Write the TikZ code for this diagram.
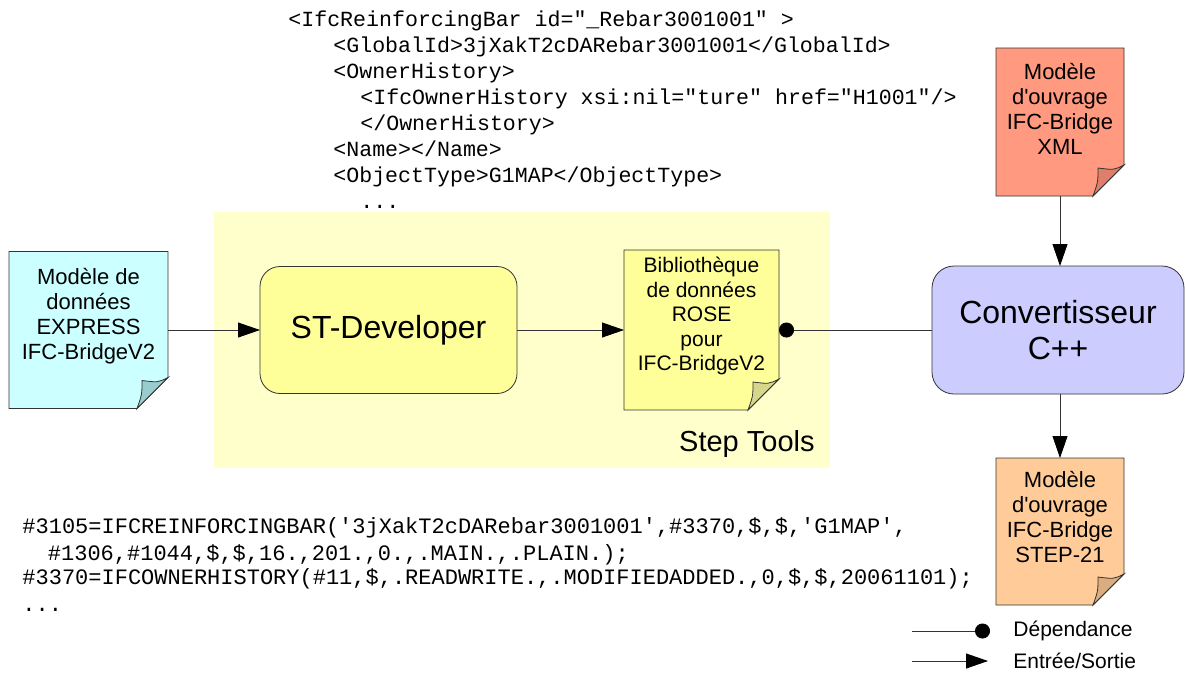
\documentclass[tikz,border=0pt]{standalone}
\usepackage{fontspec}
\setmainfont{Liberation Sans}
\newfontfamily\codefont[Ligatures=TeXOff]{Liberation Mono}
\usetikzlibrary{arrows.meta, positioning, calc}

\definecolor{expresscol}{HTML}{CCFFFF}
\definecolor{expressfold}{HTML}{99CCCC}
\definecolor{rosecol}{HTML}{FFFF99}
\definecolor{rosefold}{HTML}{D6D68C}
\definecolor{xmlcol}{HTML}{FF9980}
\definecolor{xmlfold}{HTML}{DD7F6B}
\definecolor{stepcol}{HTML}{FFCC99}
\definecolor{stepfold}{HTML}{D9AD80}
\definecolor{toolscol}{HTML}{FFFFCC}
\definecolor{convcol}{HTML}{CCCCFF}
\definecolor{linecol}{HTML}{333333}

% page with a folded corner, drawn round an empty node
\newcommand{\foldpage}[3]{%
  \filldraw[pageline, fill=#2] (#1.north west) -- (#1.north east) -- ([yshift=31pt]#1.south east)
    -- ([xshift=-31pt]#1.south east) -- (#1.south west) -- cycle;
  \filldraw[pageline, fill=#3] ([yshift=31pt]#1.south east)
    .. controls ([xshift=-10pt,yshift=26pt]#1.south east) .. ([xshift=-26pt,yshift=28pt]#1.south east)
    .. controls ([xshift=-26pt,yshift=14pt]#1.south east) .. ([xshift=-31pt]#1.south east) -- cycle;
}

\begin{document}
\begin{tikzpicture}[x=1pt, y=-1pt, >=Triangle, line width=0.8pt]
		% Define styles
		\tikzstyle{page} = [inner sep=0pt, outer sep=0pt]
		\tikzstyle{pageline} = [draw=linecol, line width=0.8pt]
		\tikzstyle{doctext} = [align=center, font=\fontsize{22}{25}\selectfont]
		\tikzstyle{block} = [draw=linecol, rectangle, rounded corners=20pt, outer sep=0pt, align=center, font=\fontsize{32}{36}\selectfont]
		\tikzstyle{codetext} = [align=left, inner sep=0pt, font=\codefont\fontsize{21.6}{26}\selectfont\frenchspacing]
		\tikzstyle{legendtext} = [anchor=west, inner sep=0pt, font=\fontsize{21}{24}\selectfont]
		\tikzstyle{io} = [draw=linecol, -{Triangle[length=22pt, width=15pt, color=black]}]
		\tikzstyle{dep} = [draw=linecol, -{Circle[length=15pt, color=black]}]

		\useasboundingbox (0,0) rectangle (1185,673);

		% Step Tools area
		\node [fill=toolscol, minimum width=616pt, minimum height=256pt, page] (toolsarea) at (522,340) {};
		\node [anchor=base east, inner sep=0pt, font=\fontsize{29}{33}\selectfont] (toolslabel) at ([xshift=-15pt, yshift=17pt]toolsarea.south east) {Step Tools};

		% XML sample (anchored on the baseline of its last line)
		\node [codetext, anchor=base west] (xmlcode) at (288,208) {<IfcReinforcingBar id="\_Rebar3001001" >\\
			\hspace*{45pt}<GlobalId>3jXakT2cDARebar3001001</GlobalId>\\
			\hspace*{45pt}<OwnerHistory>\\
			\hspace*{72pt}<IfcOwnerHistory xsi:nil="ture" href="H1001"/>\\
			\hspace*{72pt}</OwnerHistory>\\
			\hspace*{45pt}<Name></Name>\\
			\hspace*{45pt}<ObjectType>G1MAP</ObjectType>\\
			\hspace*{72pt}...};

		% STEP-21 sample
		\node [codetext, anchor=base west, font=\codefont\fontsize{22}{27}\selectfont] (stepcode) at (22,611) {\#3105=IFCREINFORCINGBAR('3jXakT2cDARebar3001001',\#3370,\$,\$,'G1MAP',\\
			\hspace*{25.5pt}\#1306,\#1044,\$,\$,16.,201.,0.,.MAIN.,.PLAIN.);\\[-3pt]
			\#3370=IFCOWNERHISTORY(\#11,\$,.READWRITE.,.MODIFIEDADDED.,0,\$,\$,20061101);\\
			...};

		% Input model
		\node [page, minimum width=159pt, minimum height=157pt] (express) at (88.5,330) {};
		\foldpage{express}{expresscol}{expressfold}
		\node [doctext] (expresslabel) at ([yshift=14pt]express.center) {Modèle de\\données\\EXPRESS\\IFC-BridgeV2};

		% Tools
		\node [block, fill=rosecol, minimum width=257pt, minimum height=127pt] (stdev) at (388.5,330) {ST-Developer};

		\node [page, minimum width=155pt, minimum height=160pt] (rose) at (701.5,330) {};
		\foldpage{rose}{rosecol}{rosefold}
		\node [doctext, font=\fontsize{21}{24.5}\selectfont] (roselabel) at ([yshift=14pt]rose.center) {Bibliothèque\\de données\\ROSE\\pour\\IFC-BridgeV2};

		% Converter
		\node [block, fill=convcol, rounded corners=22pt, minimum width=252pt, minimum height=128pt] (conv) at (1058,330) {Convertisseur\\C++};

		% Bridge models
		\node [page, minimum width=128pt, minimum height=148pt] (xmlmodel) at (1060,122) {};
		\foldpage{xmlmodel}{xmlcol}{xmlfold}
		\node [doctext] (xmllabel) at ([yshift=13pt]xmlmodel.center) {Modèle\\d\textquotesingle ouvrage\\IFC-Bridge\\XML};

		\node [page, minimum width=128pt, minimum height=147pt] (stepmodel) at (1060,531.5) {};
		\foldpage{stepmodel}{stepcol}{stepfold}
		\node [doctext] (steplabel) at ([yshift=14.5pt]stepmodel.center) {Modèle\\d\textquotesingle ouvrage\\IFC-Bridge\\STEP-21};

		% Arrows
		\draw [io] (express.east) -- (stdev.west);
		\draw [io] (stdev.east) -- (rose.west);
		\draw [dep] (conv.west) -- (rose.east);
		\draw [io] (xmlmodel.south) -- (xmlmodel.south |- conv.north);
		\draw [io] (stepmodel.north |- conv.south) -- (stepmodel.north);

		% Legend
		\coordinate (depstart) at (912,631);
		\coordinate (depend) at (990,631);
		\coordinate (iostart) at (912,661);
		\coordinate (ioend) at (988,661);
		\draw [dep] (depstart) -- (depend);
		\draw [io] (iostart) -- (ioend);
		\node [legendtext] (deplabel) at (1013,631) {Dépendance};
		\node [legendtext] (iolabel) at (1013,661) {Entrée/Sortie};

	\end{tikzpicture}
\end{document}
